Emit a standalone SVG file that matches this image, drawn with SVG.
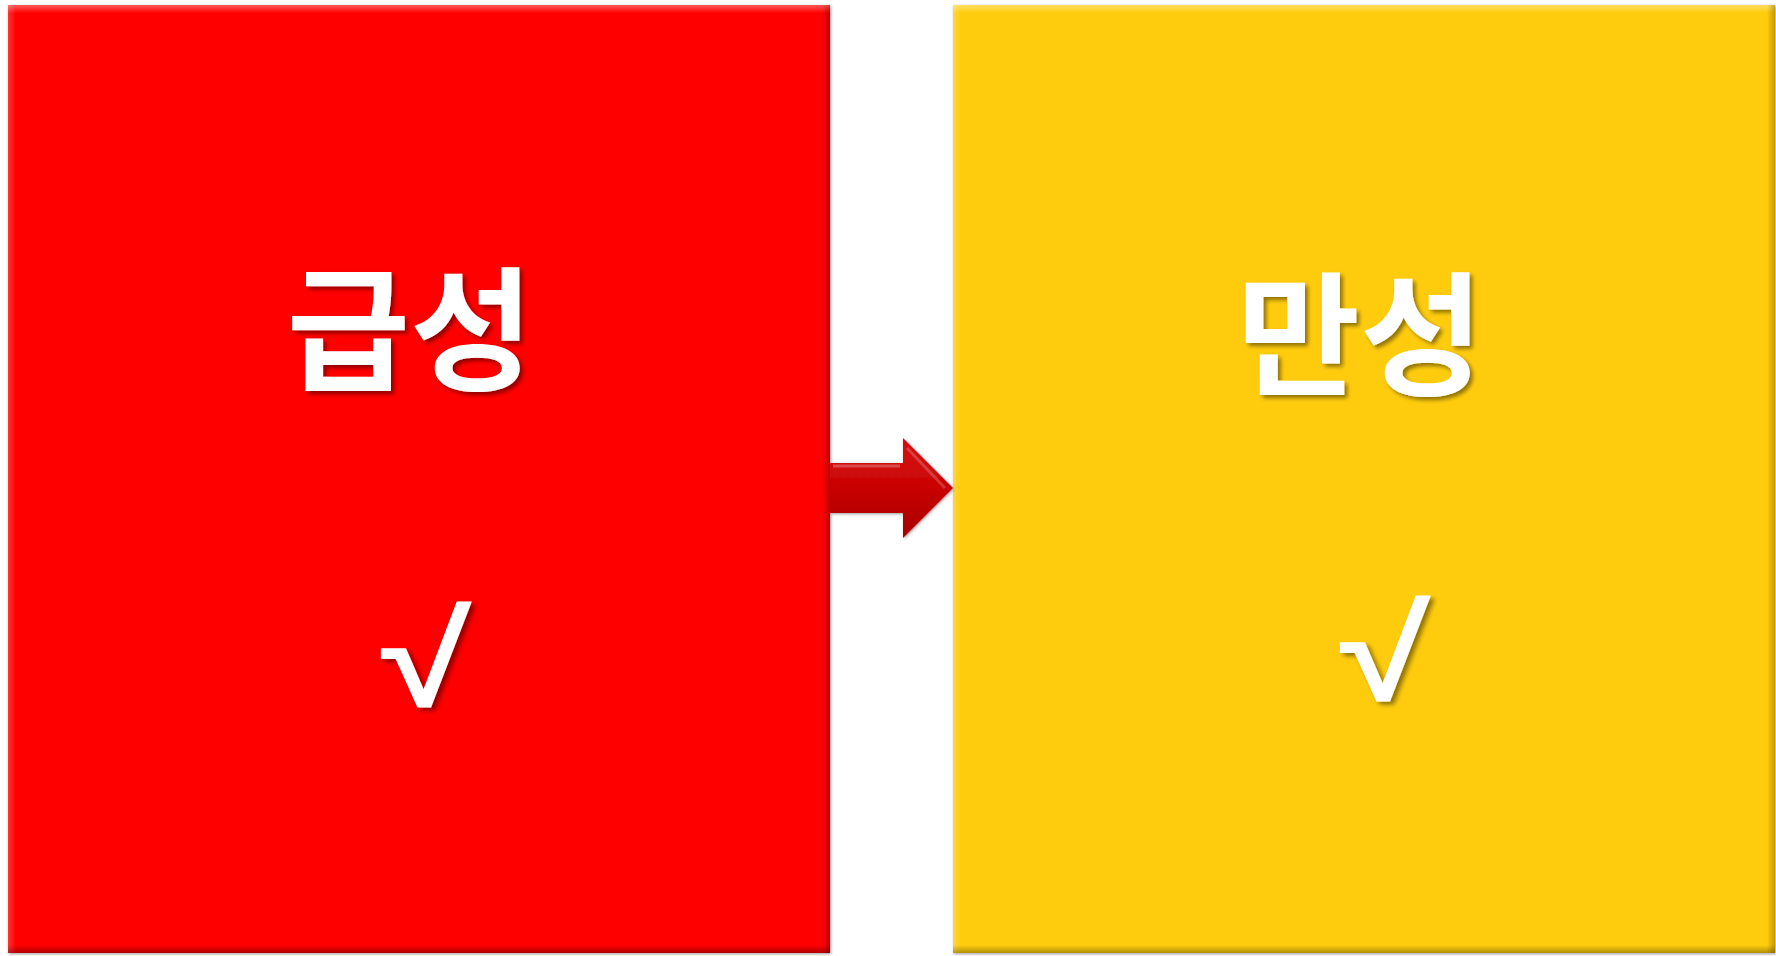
<svg xmlns="http://www.w3.org/2000/svg" width="1776" height="956" viewBox="0 0 1776 956">
<defs>
<style>
.lbl{font-family:"Noto Sans CJK KR","Noto Sans",sans-serif;font-weight:bold;fill:#fff;text-anchor:middle}
.chk{font-family:"Liberation Sans","DejaVu Sans",sans-serif;font-weight:bold;fill:#fff;text-anchor:middle}
</style>
<filter id="ts" x="-20%" y="-20%" width="140%" height="140%">
<feDropShadow dx="3" dy="3" stdDeviation="2" flood-color="#000" flood-opacity="0.45"/>
</filter>
<filter id="bs" x="-5%" y="-5%" width="110%" height="110%">
<feDropShadow dx="1" dy="1" stdDeviation="1.5" flood-color="#000" flood-opacity="0.4"/>
</filter>
<linearGradient id="topR" x1="0" y1="0" x2="0" y2="1"><stop offset="0" stop-color="#fff" stop-opacity="0.35"/><stop offset="1" stop-color="#fff" stop-opacity="0"/></linearGradient>
<linearGradient id="botR" x1="0" y1="0" x2="0" y2="1"><stop offset="0" stop-color="#000" stop-opacity="0"/><stop offset="1" stop-color="#000" stop-opacity="0.3"/></linearGradient>
<linearGradient id="lftR" x1="0" y1="0" x2="1" y2="0"><stop offset="0" stop-color="#fff" stop-opacity="0.2"/><stop offset="1" stop-color="#fff" stop-opacity="0"/></linearGradient>
<linearGradient id="rgtR" x1="0" y1="0" x2="1" y2="0"><stop offset="0" stop-color="#000" stop-opacity="0"/><stop offset="1" stop-color="#000" stop-opacity="0.25"/></linearGradient>
<linearGradient id="arr" x1="0" y1="0" x2="0" y2="1"><stop offset="0" stop-color="#d81010"/><stop offset="0.5" stop-color="#c80404"/><stop offset="1" stop-color="#a80000"/></linearGradient>
</defs>
<rect width="1776" height="956" fill="#fff"/>
<g id="node-acute">
<rect x="8" y="5" width="822" height="948" fill="#FF0606" filter="url(#bs)"/>
<rect x="8" y="5" width="822" height="8" fill="url(#topR)"/>
<rect x="8" y="5" width="8" height="948" fill="url(#lftR)"/>
<rect x="822" y="5" width="8" height="948" fill="url(#rgtR)"/>
<rect x="8" y="945" width="822" height="8" fill="url(#botR)"/>
<text class="lbl" x="410" y="380" font-size="134" filter="url(#ts)">급성</text>
<g transform="translate(426,0) scale(1.25,1) translate(-426,0)">
<text class="chk" x="426" y="706" font-size="132" filter="url(#ts)">√</text>
</g>
</g>
<g id="node-chronic">
<rect x="953" y="5" width="822" height="948" fill="#FFCC08" filter="url(#bs)"/>
<rect x="953" y="5" width="822" height="8" fill="url(#topR)"/>
<rect x="953" y="5" width="8" height="948" fill="url(#lftR)"/>
<rect x="1767" y="5" width="8" height="948" fill="url(#rgtR)"/>
<rect x="953" y="945" width="822" height="8" fill="url(#botR)"/>
<text class="lbl" x="1360" y="385" font-size="134" filter="url(#ts)">만성</text>
<g transform="translate(1385,0) scale(1.25,1) translate(-1385,0)">
<text class="chk" x="1385" y="700" font-size="132" filter="url(#ts)">√</text>
</g>
</g>
<g id="connectors">
<path d="M830,463 H903 V438 L953,488 L903,538 V513 H830 Z" fill="url(#arr)" filter="url(#bs)"/>
<path d="M833,466 H900" stroke="#fff" stroke-opacity="0.25" stroke-width="3" fill="none"/>
<path d="M907,448 L945,488" stroke="#fff" stroke-opacity="0.2" stroke-width="3" fill="none"/>
</g>
</svg>
